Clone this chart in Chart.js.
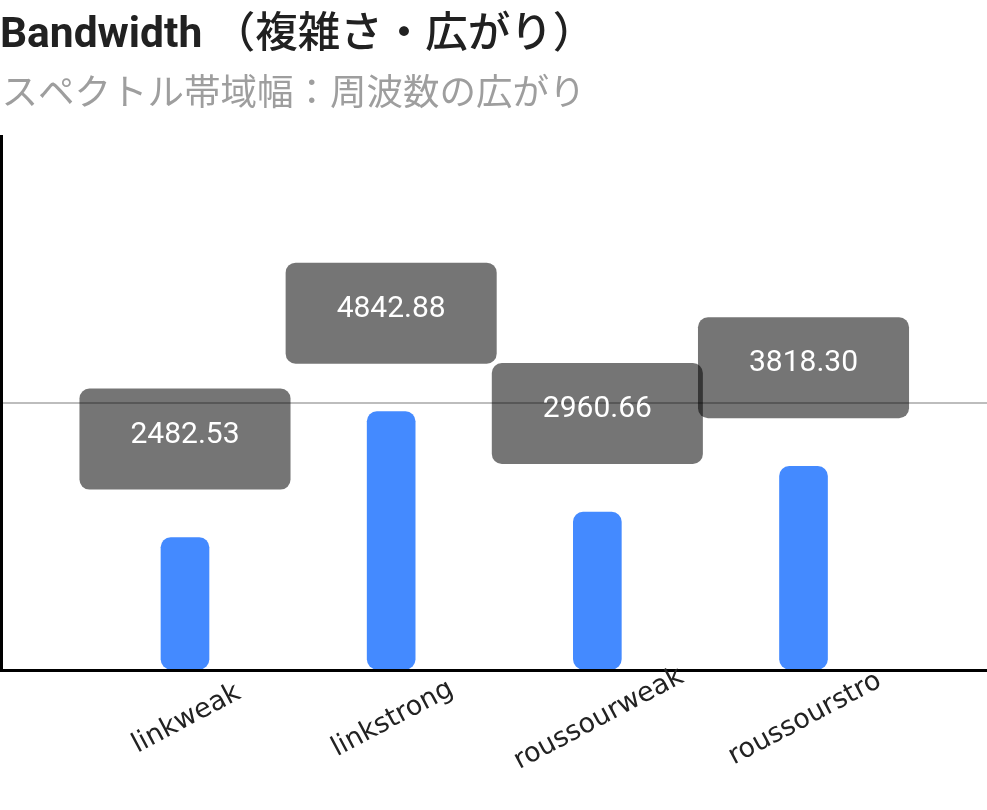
<!DOCTYPE html>
<html><head><meta charset="utf-8">
<script src="https://cdn.jsdelivr.net/npm/chart.js@4"></script>
<style>html,body{margin:0;padding:0;background:#fff}#wrap{width:987px;height:810px}</style>
</head><body><div id="wrap"><canvas id="c"></canvas></div>
<script>
const titleMain = 'Bandwidth';
const titleSuffix = '（複雑さ・広がり）';
const subtitleText = 'スペクトル帯域幅：周波数の広がり';
const categories = ['linkweak', 'linkstrong', 'roussourweak', 'roussourstro'];
const values = [2482.53, 4842.88, 2960.66, 3818.30];
const yTicks = [0, 5000, 10000];

const headings = {
  id: 'headings',
  afterDraw(chart) {
    const ctx = chart.ctx;
    ctx.save();
    ctx.textAlign = 'left';
    ctx.textBaseline = 'alphabetic';
    ctx.fillStyle = '#212121';
    ctx.font = 'bold 42.5px Roboto';
    const main = titleMain + ' ';
    ctx.fillText(main, 0, 47);
    const w = ctx.measureText(main).width;
    ctx.font = '500 42.5px "Noto Sans CJK JP"';
    ctx.fillText(titleSuffix, w, 47);
    ctx.fillStyle = '#9e9e9e';
    ctx.font = '400 36.5px "Noto Sans CJK JP"';
    ctx.fillText(subtitleText, 1.5, 104.5);
    ctx.restore();
  }
};

const valueBoxes = {
  id: 'valueBoxes',
  afterDatasetsDraw(chart) {
    const ctx = chart.ctx;
    const meta = chart.getDatasetMeta(0);
    ctx.save();
    ctx.font = '30px Roboto';
    meta.data.forEach((bar, i) => {
      const label = values[i].toFixed(2);
      const tw = ctx.measureText(label).width;
      const w = tw + 102, h = 101;
      const cx = bar.x, cy = bar.y - 98.5;
      ctx.fillStyle = 'rgba(0,0,0,0.54)';
      ctx.beginPath();
      ctx.roundRect(cx - w / 2, cy - h / 2, w, h, 10);
      ctx.fill();
      ctx.fillStyle = '#ffffff';
      ctx.textAlign = 'center';
      ctx.textBaseline = 'middle';
      ctx.fillText(label, cx, cy - 4);
    });
    ctx.restore();
  }
};

const catLabels = {
  id: 'catLabels',
  afterDraw(chart) {
    const xs = chart.scales.x;
    const ctx = chart.ctx;
    ctx.save();
    ctx.font = '27px "DejaVu Sans"';
    ctx.fillStyle = '#222222';
    ctx.textAlign = 'center';
    ctx.textBaseline = 'middle';
    categories.forEach((c, i) => {
      const x = xs.getPixelForValue(i) + 1.5;
      const y = xs.top + 49;
      ctx.save();
      ctx.translate(x, y);
      ctx.rotate(-28 * Math.PI / 180);
      ctx.fillText(c, 0, 0);
      ctx.restore();
    });
    ctx.restore();
  }
};

new Chart(document.getElementById('c'), {
  type: 'bar',
  data: {
    datasets: [{
      data: categories.map((c, i) => ({ x: i, y: values[i] })),
      backgroundColor: '#448AFF',
      borderRadius: 10,
      borderSkipped: false,
      barThickness: 48
    }]
  },
  options: {
    responsive: true,
    maintainAspectRatio: false,
    animation: false,
    layout: { padding: { left: 1.5, right: 0, top: 136.5, bottom: 140 } },
    plugins: {
      legend: { display: false },
      tooltip: { enabled: false },
      title: { display: false },
      subtitle: { display: false }
    },
    scales: {
      x: {
        type: 'linear', min: -0.89, max: 3.89, offset: false,
        grid: { display: false, drawTicks: false, offset: false },
        ticks: { display: false },
        border: { display: true, color: '#000000', width: 3, z: 1 }
      },
      y: {
        min: 0, max: 10000,
        afterBuildTicks: s => { s.ticks = yTicks.map(v => ({ value: v })); },
        grid: {
          color: c => (c.tick && c.tick.value === 5000) ? '#bdbdbd' : 'rgba(0,0,0,0)',
          lineWidth: 2, drawTicks: false
        },
        ticks: { display: false },
        border: { display: true, color: '#000000', width: 3 }
      }
    }
  },
  plugins: [valueBoxes, catLabels, headings]
});
</script>
</body></html>
